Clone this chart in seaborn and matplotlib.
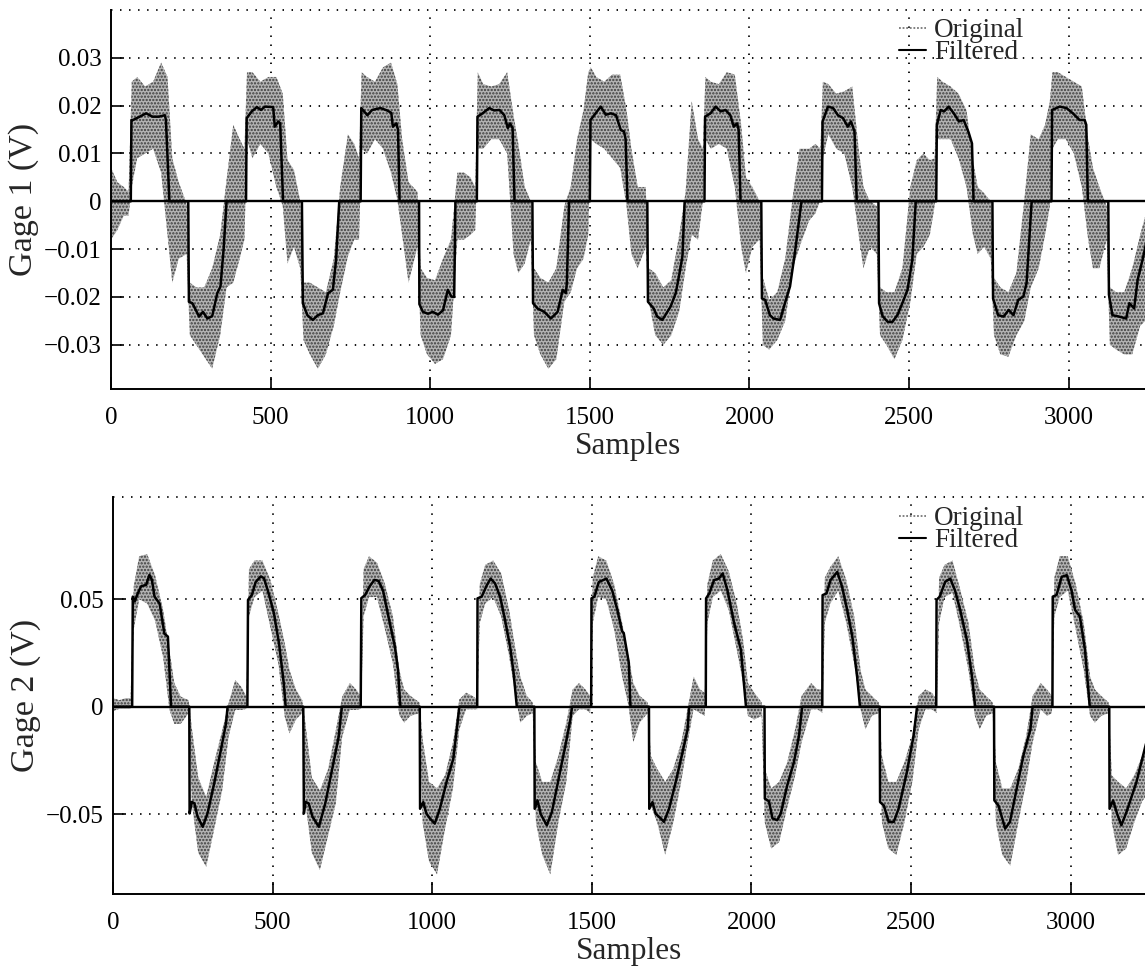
import matplotlib
matplotlib.use("Agg")
import matplotlib.pyplot as plt
from matplotlib.lines import Line2D
import seaborn as sns

# ---------------------------------------------------------------------------
# Sample positions at which the spread of the raw gauge signals is described
band_x = [0, 20, 40, 55,
          65, 82, 107, 132, 157, 177, 192, 212, 237, 247, 267, 292, 317, 342, 362, 383, 403, 418,
          426, 443, 468, 493, 518, 538, 553, 573, 593, 603, 623, 648, 673, 698, 718, 742, 762, 777,
          785, 802, 827, 852, 877, 897, 912, 932, 960, 970, 990, 1015, 1040, 1065, 1085, 1106, 1126, 1141,
          1149, 1166, 1191, 1216, 1241, 1261, 1276, 1296, 1315, 1325, 1345, 1370, 1395, 1420, 1440, 1460, 1480, 1495,
          1503, 1520, 1545, 1570, 1595, 1615, 1630, 1650, 1675, 1685, 1705, 1730, 1755, 1780, 1800, 1819, 1839, 1854,
          1862, 1879, 1904, 1929, 1954, 1974, 1989, 2009, 2032, 2042, 2062, 2087, 2112, 2137, 2157, 2187, 2207, 2222,
          2230, 2247, 2272, 2297, 2322, 2342, 2357, 2377, 2399, 2409, 2429, 2454, 2479, 2504, 2524, 2545, 2565, 2580,
          2588, 2605, 2630, 2655, 2680, 2700, 2715, 2735, 2756, 2766, 2786, 2811, 2836, 2861, 2881, 2906, 2926, 2941,
          2949, 2966, 2991, 3016, 3041, 3061, 3076, 3096, 3119, 3129, 3149, 3174, 3199, 3224, 3240]

# Gage 1 raw signal: upper / lower extent (V)
g1_hi = [0.007, 0.004, 0.003, 0.002,
         0.025, 0.026, 0.024, 0.025, 0.029, 0.026, 0.009, 0.004, -0.0005, -0.017, -0.018, -0.018, -0.014, -0.007, 0.0045, 0.016, 0.013, 0.011,
         0.027, 0.027, 0.025, 0.026, 0.026, 0.0225, 0.0086, 0.0066, 0.0, -0.017, -0.017, -0.018, -0.019, -0.012, 0.003, 0.014, 0.012, 0.009,
         0.027, 0.026, 0.025, 0.028, 0.029, 0.0245, 0.013, 0.004, 0.002, -0.014, -0.016, -0.0165, -0.012, -0.008, 0.006, 0.006, 0.005, 0.003,
         0.027, 0.0245, 0.024, 0.0245, 0.027, 0.018, 0.012, 0.003, 0.0, -0.014, -0.016, -0.017, -0.014, -0.001, 0.003, 0.013, 0.019, 0.027,
         0.028, 0.026, 0.025, 0.0265, 0.0265, 0.019, 0.011, 0.003, 0.003, -0.014, -0.015, -0.018, -0.0165, -0.007, 0.002, 0.021, 0.013, 0.011,
         0.026, 0.025, 0.0245, 0.027, 0.0265, 0.016, 0.005, 0.003, 0.0, -0.016, -0.0206, -0.019, -0.012, 0.0017, 0.011, 0.011, 0.012, 0.011,
         0.025, 0.0245, 0.0225, 0.023, 0.024, 0.011, 0.003, 0.0, -0.001, -0.018, -0.019, -0.019, -0.014, 0.003, 0.0086, 0.010, 0.0086, 0.009,
         0.026, 0.025, 0.024, 0.0225, 0.019, 0.0086, 0.003, 0.0017, 0.0, -0.016, -0.018, -0.019, -0.015, 0.0003, 0.014, 0.013, 0.016, 0.021,
         0.027, 0.027, 0.026, 0.025, 0.024, 0.013, 0.007, 0.003, -0.001, -0.018, -0.019, -0.019, -0.014, -0.007, -0.003]
g1_lo = [-0.008, -0.006, -0.003, -0.003,
         0.003, 0.009, 0.010, 0.011, 0.006, -0.007, -0.017, -0.012, -0.011, -0.028, -0.030, -0.0325, -0.035, -0.028, -0.018, -0.017, -0.012, -0.008,
         0.013, 0.009, 0.012, 0.010, 0.003, -0.001, -0.013, -0.0095, -0.014, -0.029, -0.032, -0.035, -0.032, -0.026, -0.019, -0.0115, -0.008, -0.008,
         0.011, 0.010, 0.013, 0.011, 0.006, 0.0003, -0.007, -0.017, -0.0095, -0.028, -0.032, -0.034, -0.033, -0.028, -0.008, -0.008, -0.007, -0.006,
         0.011, 0.011, 0.013, 0.013, 0.010, -0.011, -0.015, -0.013, -0.008, -0.028, -0.032, -0.035, -0.033, -0.021, -0.019, -0.014, -0.012, -0.007,
         0.013, 0.012, 0.011, 0.009, 0.007, -0.001, -0.011, -0.014, -0.0095, -0.021, -0.028, -0.030, -0.028, -0.023, -0.014, -0.007, -0.008, 0.0,
         0.013, 0.011, 0.012, 0.011, 0.003, -0.0095, -0.015, -0.0095, -0.008, -0.030, -0.031, -0.029, -0.025, -0.0137, -0.0095, -0.004, -0.0025, 0.0003,
         0.009, 0.014, 0.011, 0.010, 0.003, -0.007, -0.014, -0.0095, -0.011, -0.028, -0.030, -0.033, -0.029, -0.021, -0.011, -0.0095, -0.007, -0.001,
         0.013, 0.013, 0.013, 0.009, 0.003, -0.007, -0.011, -0.0095, -0.012, -0.028, -0.032, -0.0325, -0.028, -0.025, -0.018, -0.014, -0.007, -0.001,
         0.011, 0.013, 0.013, 0.010, 0.003, -0.008, -0.014, -0.014, -0.008, -0.030, -0.031, -0.032, -0.032, -0.026, -0.025]

# Gage 2 raw signal: upper / lower extent (V)
g2_hi = [0.004, 0.003, 0.004, 0.004,
         0.056, 0.070, 0.071, 0.061, 0.045, 0.026, 0.011, 0.0047, 0.003, -0.010, -0.033, -0.042, -0.026, -0.011, 0.0015, 0.0124, 0.009, 0.0047,
         0.064, 0.068, 0.068, 0.059, 0.0435, 0.0295, 0.017, 0.008, 0.003, -0.008, -0.033, -0.039, -0.0295, -0.011, 0.0047, 0.011, 0.008, 0.0047,
         0.064, 0.070, 0.067, 0.057, 0.042, 0.017, 0.008, 0.005, 0.002, -0.015, -0.035, -0.038, -0.032, -0.0166, 0.0034, 0.0065, 0.005, 0.0034,
         0.057, 0.066, 0.068, 0.062, 0.045, 0.0265, 0.014, 0.005, 0.002, -0.026, -0.035, -0.035, -0.023, -0.0074, 0.008, 0.011, 0.008, 0.005,
         0.060, 0.070, 0.068, 0.057, 0.039, 0.0234, 0.011, 0.005, 0.002, -0.023, -0.029, -0.035, -0.029, -0.0166, -0.0012, 0.014, 0.008, 0.0065,
         0.057, 0.068, 0.071, 0.063, 0.048, 0.031, 0.011, 0.0065, 0.002, -0.029, -0.038, -0.035, -0.026, -0.0105, 0.005, 0.011, 0.008, 0.008,
         0.060, 0.065, 0.070, 0.059, 0.042, 0.017, 0.008, 0.005, 0.002, -0.023, -0.035, -0.035, -0.026, -0.0136, 0.005, 0.008, 0.0065, 0.0034,
         0.060, 0.066, 0.068, 0.054, 0.039, 0.017, 0.008, 0.005, 0.002, -0.026, -0.038, -0.038, -0.029, -0.0136, 0.005, 0.011, 0.008, 0.005,
         0.060, 0.070, 0.070, 0.057, 0.039, 0.014, 0.008, 0.005, 0.002, -0.032, -0.035, -0.038, -0.032, -0.023, -0.020]
g2_lo = [-0.002, -0.001, -0.001, -0.001,
         0.036, 0.050, 0.048, 0.040, 0.023, -0.0015, -0.008, -0.008, -0.003, -0.045, -0.068, -0.0745, -0.057, -0.039, -0.014, -0.0015, -0.0015, -0.001,
         0.042, 0.051, 0.054, 0.037, 0.020, -0.0047, -0.0124, -0.006, -0.003, -0.045, -0.068, -0.076, -0.0605, -0.045, -0.014, -0.0015, -0.0015, -0.001,
         0.042, 0.051, 0.051, 0.036, 0.020, -0.004, -0.0074, -0.0043, -0.003, -0.054, -0.072, -0.078, -0.057, -0.038, -0.0105, -0.0012, -0.0012, -0.0012,
         0.039, 0.048, 0.051, 0.042, 0.0234, 0.005, -0.0074, -0.0043, -0.003, -0.054, -0.069, -0.078, -0.054, -0.035, -0.0043, -0.0012, -0.0012, -0.003,
         0.039, 0.051, 0.050, 0.036, 0.014, 0.0003, -0.0166, -0.0074, -0.003, -0.046, -0.054, -0.069, -0.054, -0.035, -0.0166, -0.0012, -0.003, -0.0043,
         0.039, 0.051, 0.054, 0.045, 0.0265, 0.011, -0.0043, -0.006, -0.0043, -0.054, -0.066, -0.063, -0.047, -0.032, -0.0166, -0.0012, -0.0012, -0.003,
         0.039, 0.048, 0.054, 0.039, 0.020, -0.0012, -0.0105, -0.0043, -0.003, -0.054, -0.066, -0.069, -0.054, -0.035, -0.0105, -0.0012, -0.0012, -0.003,
         0.039, 0.051, 0.053, 0.036, 0.017, -0.0043, -0.0105, -0.0043, -0.003, -0.054, -0.069, -0.074, -0.054, -0.035, -0.0166, -0.0012, -0.0043, -0.003,
         0.042, 0.051, 0.054, 0.036, 0.017, -0.0043, -0.0074, -0.0043, -0.003, -0.054, -0.069, -0.066, -0.054, -0.044, -0.041]

# Filtered gage 1 signal (sample, V)
g1_fx = [0, 62, 64, 69, 90, 110, 130, 150, 169, 172, 183,
         242, 244, 255, 276, 288, 302, 317, 333, 343, 353, 362,
         423, 425, 441, 457, 470, 482, 508, 513, 524, 530, 539,
         598, 601, 615, 632, 648, 664, 680, 695, 705, 715,
         782, 784, 803, 818, 844, 865, 878, 883, 894, 899, 904,
         965, 966, 977, 993, 1008, 1024, 1040, 1055, 1066, 1075, 1079,
         1146, 1148, 1164, 1185, 1200, 1217, 1232, 1243, 1250, 1258, 1264,
         1320, 1322, 1336, 1357, 1378, 1399, 1415, 1425, 1428, 1435,
         1500, 1502, 1518, 1534, 1550, 1566, 1582, 1597, 1607, 1612, 1618,
         1680, 1682, 1700, 1711, 1727, 1753, 1769, 1779, 1790, 1797,
         1859, 1861, 1878, 1894, 1910, 1925, 1940, 1951, 1961, 1966, 1972,
         2037, 2039, 2049, 2064, 2075, 2096, 2111, 2127, 2142, 2163,
         2227, 2229, 2246, 2262, 2277, 2293, 2308, 2318, 2329, 2336,
         2404, 2406, 2417, 2433, 2448, 2464, 2479, 2495, 2510, 2521,
         2585, 2587, 2599, 2610, 2624, 2640, 2656, 2671, 2687, 2697, 2702,
         2761, 2763, 2779, 2796, 2812, 2827, 2842, 2858, 2868, 2884,
         2946, 2948, 2972, 2993, 3013, 3034, 3050, 3055, 3060,
         3124, 3126, 3137, 3158, 3180, 3190, 3205, 3216, 3231, 3245]
g1_fy = [0, 0, 0.017, 0.017, 0.0177, 0.0184, 0.0177, 0.0177, 0.018, 0.017, 0,
         0, -0.021, -0.0213, -0.0241, -0.0231, -0.0245, -0.024, -0.0192, -0.0178, -0.0098, 0,
         0, 0.0174, 0.0188, 0.0197, 0.0191, 0.0198, 0.0197, 0.0156, 0.0167, 0.0163, 0,
         0, -0.0213, -0.0238, -0.0248, -0.0238, -0.0234, -0.0192, -0.0185, -0.0123, 0,
         0, 0.0195, 0.018, 0.0191, 0.0195, 0.019, 0.0185, 0.0156, 0.0163, 0.015, 0,
         0, -0.0215, -0.0231, -0.0235, -0.0231, -0.0237, -0.0228, -0.0185, -0.0199, -0.02, 0,
         0, 0.0177, 0.0184, 0.0195, 0.019, 0.0191, 0.018, 0.0153, 0.0163, 0.0153, 0,
         0, -0.0213, -0.0224, -0.0231, -0.0245, -0.0231, -0.0185, -0.0192, -0.017, 0,
         0, 0.017, 0.0184, 0.0198, 0.0181, 0.0184, 0.018, 0.0149, 0.0146, 0.013, 0,
         0, -0.021, -0.0224, -0.0241, -0.0248, -0.022, -0.0192, -0.0157, -0.0115, 0,
         0, 0.0177, 0.0184, 0.0198, 0.0188, 0.0191, 0.018, 0.0156, 0.0163, 0.015, 0,
         0, -0.0203, -0.0206, -0.0238, -0.0245, -0.0248, -0.0213, -0.0178, -0.0109, 0,
         0, 0.0167, 0.0198, 0.0195, 0.018, 0.0174, 0.0156, 0.0167, 0.0146, 0,
         0, -0.0213, -0.024, -0.0252, -0.0252, -0.0237, -0.0213, -0.0185, -0.0123, 0,
         0, 0.016, 0.0191, 0.0188, 0.0198, 0.0184, 0.0167, 0.017, 0.0143, 0.0121, 0,
         0, -0.0203, -0.0238, -0.0241, -0.0227, -0.0238, -0.0206, -0.0199, -0.0171, 0,
         0, 0.0191, 0.0198, 0.0195, 0.0184, 0.017, 0.017, 0.016, 0,
         0, -0.0195, -0.0238, -0.0241, -0.0245, -0.0213, -0.0224, -0.0164, -0.0123, -0.008]

# Filtered gage 2 signal (sample, V)
g2_fx = [0, 60, 62, 68, 78, 88, 104, 114, 122, 130, 146, 161, 172, 182,
         239, 240, 247, 255, 265, 281, 296, 317, 338, 354, 359,
         421, 423, 435, 447, 463, 473, 489, 504, 520, 535, 541,
         596, 598, 603, 613, 625, 645, 665, 686, 707, 717,
         776, 778, 790, 804, 819, 832, 846, 867, 883, 893, 900,
         961, 962, 972, 982, 993, 1008, 1024, 1045, 1066, 1077, 1085,
         1141, 1142, 1155, 1171, 1183, 1197, 1213, 1228, 1244, 1255, 1265,
         1320, 1321, 1330, 1340, 1359, 1375, 1396, 1417, 1433, 1438,
         1498, 1499, 1508, 1522, 1546, 1564, 1580, 1595, 1600, 1616, 1621,
         1679, 1680, 1690, 1700, 1716, 1726, 1742, 1763, 1784, 1800, 1805,
         1857, 1858, 1868, 1883, 1898, 1910, 1925, 1946, 1967, 1983,
         2041, 2042, 2055, 2066, 2081, 2092, 2112, 2133, 2149, 2159,
         2222, 2223, 2235, 2248, 2269, 2284, 2300, 2316, 2331, 2340,
         2402, 2403, 2415, 2430, 2446, 2461, 2487, 2508, 2519,
         2579, 2580, 2590, 2607, 2623, 2638, 2654, 2675, 2691, 2701,
         2760, 2761, 2774, 2795, 2810, 2831, 2852, 2874, 2881,
         2943, 2944, 2956, 2972, 2988, 3003, 3014, 3029, 3045, 3060,
         3121, 3122, 3133, 3146, 3159, 3175, 3206, 3232, 3245]
g2_fy = [0, 0, 0.0512, 0.049, 0.0528, 0.056, 0.0567, 0.0613, 0.059, 0.0512, 0.048, 0.034, 0.0326, 0,
         0, -0.0497, -0.0443, -0.045, -0.0512, -0.0559, -0.0497, -0.0357, -0.0202, -0.0078, 0,
         0, 0.0497, 0.052, 0.058, 0.0606, 0.0598, 0.052, 0.0435, 0.0295, 0.0109, 0,
         0, -0.0497, -0.0443, -0.045, -0.0512, -0.0559, -0.045, -0.0295, -0.014, 0,
         0, 0.0505, 0.052, 0.056, 0.059, 0.0585, 0.054, 0.039, 0.028, 0.017, 0,
         0, -0.0475, -0.0444, -0.0498, -0.052, -0.0544, -0.0475, -0.035, -0.0243, -0.0105, 0,
         0, 0.0504, 0.0512, 0.0565, 0.0596, 0.0573, 0.051, 0.0404, 0.028, 0.0157, 0,
         0, -0.0475, -0.0436, -0.05, -0.0552, -0.049, -0.0336, -0.0182, -0.0059, 0,
         0, 0.0504, 0.0512, 0.058, 0.0596, 0.054, 0.045, 0.035, 0.0343, 0.0203, 0,
         0, -0.0475, -0.0444, -0.0498, -0.052, -0.0536, -0.0475, -0.035, -0.0213, -0.0105, 0,
         0, 0.0504, 0.0527, 0.0589, 0.0596, 0.062, 0.054, 0.0388, 0.0265, 0,
         0, -0.0428, -0.044, -0.052, -0.0528, -0.0497, -0.0367, -0.0259, -0.0136, 0,
         0, 0.0519, 0.0527, 0.0589, 0.0627, 0.0558, 0.045, 0.0327, 0.0142, 0,
         0, -0.0444, -0.046, -0.0536, -0.0536, -0.0475, -0.0305, -0.0136, 0,
         0, 0.0497, 0.0512, 0.0581, 0.0596, 0.054, 0.045, 0.031, 0.014, 0,
         0, -0.0436, -0.046, -0.0567, -0.0536, -0.0382, -0.0228, -0.0105, 0,
         0, 0.0512, 0.052, 0.0604, 0.0612, 0.054, 0.045, 0.042, 0.0265, 0,
         0, -0.0475, -0.0436, -0.05, -0.0552, -0.049, -0.0352, -0.0197, -0.012]

x_ticks = [0, 500, 1000, 1500, 2000, 2500, 3000]
g1_ticks = [-0.03, -0.02, -0.01, 0, 0.01, 0.02, 0.03]
g1_ticklabels = ["\u22120.03", "\u22120.02", "\u22120.01", "0", "0.01", "0.02", "0.03"]
g2_ticks = [-0.05, 0, 0.05]
g2_ticklabels = ["\u22120.05", "0", "0.05"]
legend_labels = ["Original", "Filtered"]

# ---------------------------------------------------------------------------
sns.set_theme(style="white")
plt.rcParams["font.family"] = ["Liberation Serif", "DejaVu Serif"]
plt.rcParams["hatch.linewidth"] = 1.1
plt.rcParams["axes.unicode_minus"] = True

W, H = 1145, 972
fig = plt.figure(figsize=(W / 100, H / 100), dpi=100)
ax1 = fig.add_axes([111 / W, 1 - 389.3 / H, 1 - 111 / W, (389.3 - 10) / H])
ax2 = fig.add_axes([113 / W, 1 - 894.3 / H, 1 - 113 / W, (894.3 - 496.7) / H])

DOT = (0, (0.8, 4.2))


def draw_panel(ax, lo, hi, fx, fy, xmax, ylim, yticks, yticklabels, ylabel,
               legend_top):
    ax.set_xlim(0, xmax)
    ax.set_ylim(*ylim)
    # dotted grid
    for xv in x_ticks[1:]:
        ax.axvline(xv, color="black", lw=1.3, ls=DOT, zorder=0.5)
    for yv in yticks:
        ax.axhline(yv, color="black", lw=1.3, ls=DOT, zorder=0.5)
    ax.axhline(ylim[1], color="black", lw=1.3, ls=DOT, zorder=0.5, clip_on=False)
    # raw signal spread (stippled band)
    ax.fill_between(band_x, lo, hi, facecolor="#b4b4b4", edgecolor="#3c3c3c",
                    hatch=".....", linewidth=0, zorder=1)
    ax.axhline(0, color="black", lw=1.7, zorder=2)
    sns.lineplot(x=fx, y=fy, ax=ax, color="black", lw=1.8, estimator=None,
                 sort=False, zorder=3)
    ax.set_xticks(x_ticks)
    ax.set_xticklabels([str(v) for v in x_ticks])
    ax.set_yticks(yticks)
    ax.set_yticklabels(yticklabels)
    ax.tick_params(direction="in", length=9, width=1.2, left=True, bottom=True,
                   top=False, right=False, labelsize=18, pad=7, colors="black")
    ax.tick_params(axis="x", pad=13)
    for side in ("top", "right"):
        ax.spines[side].set_visible(False)
    for side in ("left", "bottom"):
        ax.spines[side].set_color("black")
        ax.spines[side].set_linewidth(1.4)
    ax.set_xlabel("Samples", fontsize=22.5, labelpad=2)
    ax.set_ylabel(ylabel, fontsize=24.5, labelpad=3)
    handles = [Line2D([], [], color="#777777", lw=1.3, ls=(0, (1, 1))),
               Line2D([], [], color="black", lw=1.5)]
    ax.legend(handles, legend_labels, loc="upper left", frameon=False,
              fontsize=19.5, handlelength=1.0, handletextpad=0.3,
              labelspacing=-0.1, borderpad=0, borderaxespad=0,
              bbox_to_anchor=(899 / W, 1 - legend_top / H),
              bbox_transform=fig.transFigure)


draw_panel(ax1, g1_lo, g1_hi, g1_fx, g1_fy, 3239, (-0.0393, 0.04),
           g1_ticks, g1_ticklabels, "Gage 1 (V)", 18)
draw_panel(ax2, g2_lo, g2_hi, g2_fx, g2_fy, 3233, (-0.0873, 0.0977),
           g2_ticks, g2_ticklabels, "Gage 2 (V)", 506)

fig.savefig("out.png", dpi=100)
